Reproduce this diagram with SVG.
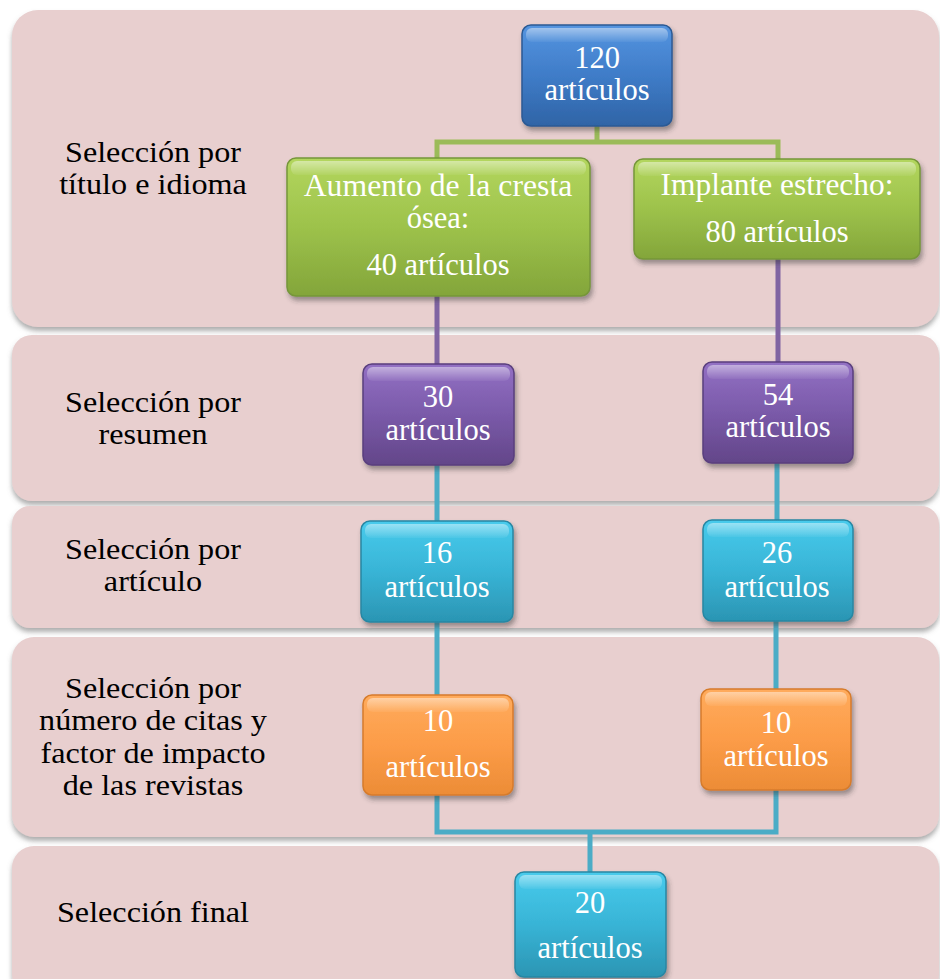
<svg xmlns="http://www.w3.org/2000/svg" width="940" height="979" viewBox="0 0 940 979">
<defs>
<filter id="bandShadow" x="-5%" y="-10%" width="110%" height="125%">
<feDropShadow dx="0" dy="4" stdDeviation="2.5" flood-color="#6d6d6d" flood-opacity="0.55"/>
</filter>
<filter id="boxShadow" x="-10%" y="-10%" width="125%" height="130%">
<feDropShadow dx="2" dy="4" stdDeviation="2.5" flood-color="#333" flood-opacity="0.45"/>
</filter>
<linearGradient id="gBlue" x1="0" y1="0" x2="0" y2="1">
<stop offset="0" stop-color="#5595e0"/><stop offset="0.5" stop-color="#3f7cc8"/><stop offset="1" stop-color="#2f64a6"/>
</linearGradient>
<linearGradient id="gGreen" x1="0" y1="0" x2="0" y2="1">
<stop offset="0" stop-color="#b3d65e"/><stop offset="0.5" stop-color="#9dc24b"/><stop offset="1" stop-color="#83a53a"/>
</linearGradient>
<linearGradient id="gPurple" x1="0" y1="0" x2="0" y2="1">
<stop offset="0" stop-color="#9370c4"/><stop offset="0.5" stop-color="#7a5aa9"/><stop offset="1" stop-color="#634689"/>
</linearGradient>
<linearGradient id="gCyan" x1="0" y1="0" x2="0" y2="1">
<stop offset="0" stop-color="#48cbec"/><stop offset="0.5" stop-color="#38b4d6"/><stop offset="1" stop-color="#2b95b3"/>
</linearGradient>
<linearGradient id="gOrange" x1="0" y1="0" x2="0" y2="1">
<stop offset="0" stop-color="#ffab5c"/><stop offset="0.5" stop-color="#fc9c48"/><stop offset="1" stop-color="#ec8c36"/>
</linearGradient>
<linearGradient id="gloss" x1="0" y1="0" x2="0" y2="1">
<stop offset="0" stop-color="#fff" stop-opacity="0.45"/><stop offset="1" stop-color="#fff" stop-opacity="0.05"/>
</linearGradient>
</defs>
<style>
.band{fill:#e8cfcf;}
.lbl{font-size:29px;fill:#000;text-anchor:middle;}
.bt{font-size:30.5px;fill:#fff;text-anchor:middle;}
.gl{fill:url(#gloss);}
.conn{fill:none;stroke-width:5;stroke-linejoin:miter;}
.cg{stroke:#9bbb59;}
.cp{stroke:#8064a2;}
.cc{stroke:#4bacc6;}
</style>
<rect width="940" height="979" fill="#ffffff"/>
<g id="bands">
<rect class="band" x="12" y="10" width="927" height="317" rx="26" filter="url(#bandShadow)"/>
<rect class="band" x="12" y="335" width="927" height="166" rx="20" filter="url(#bandShadow)"/>
<rect class="band" x="12" y="506" width="927" height="122" rx="18" filter="url(#bandShadow)"/>
<rect class="band" x="12" y="637" width="927" height="200" rx="22" filter="url(#bandShadow)"/>
<rect class="band" x="12" y="846" width="927" height="150" rx="22" filter="url(#bandShadow)"/>
</g>
<g id="labels" font-family="Liberation Serif, Times New Roman, DejaVu Serif, serif">
<text class="lbl" transform="matrix(1.11 0 0 1 153 162)">Selección por</text>
<text class="lbl" transform="matrix(1.11 0 0 1 153 194)">título e idioma</text>
<text class="lbl" transform="matrix(1.11 0 0 1 153 412)">Selección por</text>
<text class="lbl" transform="matrix(1.11 0 0 1 153 444)">resumen</text>
<text class="lbl" transform="matrix(1.11 0 0 1 153 559)">Selección por</text>
<text class="lbl" transform="matrix(1.11 0 0 1 153 591)">artículo</text>
<text class="lbl" transform="matrix(1.11 0 0 1 153 698)">Selección por</text>
<text class="lbl" transform="matrix(1.11 0 0 1 153 730)">número de citas y</text>
<text class="lbl" transform="matrix(1.11 0 0 1 153 763)">factor de impacto</text>
<text class="lbl" transform="matrix(1.11 0 0 1 153 795)">de las revistas</text>
<text class="lbl" transform="matrix(1.11 0 0 1 153 922)">Selección final</text>
</g>
<g id="connectors">
<path class="conn cg" d="M597,126 V142 M437,158 V142 H778 V159"/>
<path class="conn cp" d="M437,296 V364 M778,259 V362"/>
<path class="conn cc" d="M437,465 V521 M777,463 V520 M437,622 V695 M776,621 V689"/>
<path class="conn cc" d="M437,795 V832 H776 V790 M590,832 V872"/>
</g>
<g font-family="Liberation Serif, Times New Roman, DejaVu Serif, serif">
<g id="n120">
<rect x="522" y="25" width="150" height="101" rx="9" fill="url(#gBlue)" stroke="#2c5a94" stroke-width="1.5" filter="url(#boxShadow)"/>
<rect class="gl" x="526" y="28" width="142" height="14" rx="6"/>
<text class="bt" x="597" y="68">120</text>
<text class="bt" x="597" y="100">artículos</text>
</g>
<g id="nAumento">
<rect x="287" y="158" width="303" height="138" rx="9" fill="url(#gGreen)" stroke="#76963a" stroke-width="1.5" filter="url(#boxShadow)"/>
<rect class="gl" x="291" y="161" width="295" height="14" rx="6"/>
<text class="bt" transform="matrix(1.04 0 0 1 438 196)">Aumento de la cresta</text>
<text class="bt" x="438" y="228">ósea:</text>
<text class="bt" x="438" y="275">40 artículos</text>
</g>
<g id="nImplante">
<rect x="634" y="159" width="286" height="100" rx="9" fill="url(#gGreen)" stroke="#76963a" stroke-width="1.5" filter="url(#boxShadow)"/>
<rect class="gl" x="638" y="162" width="278" height="14" rx="6"/>
<text class="bt" transform="matrix(1.03 0 0 1 777 195)">Implante estrecho:</text>
<text class="bt" x="777" y="242">80 artículos</text>
</g>
<g id="n30">
<rect x="363" y="364" width="151" height="101" rx="9" fill="url(#gPurple)" stroke="#5a3f7e" stroke-width="1.5" filter="url(#boxShadow)"/>
<rect class="gl" x="367" y="367" width="143" height="14" rx="6"/>
<text class="bt" x="438" y="407">30</text>
<text class="bt" x="438" y="440">artículos</text>
</g>
<g id="n54">
<rect x="703" y="362" width="150" height="101" rx="9" fill="url(#gPurple)" stroke="#5a3f7e" stroke-width="1.5" filter="url(#boxShadow)"/>
<rect class="gl" x="707" y="365" width="142" height="14" rx="6"/>
<text class="bt" x="778" y="405">54</text>
<text class="bt" x="778" y="437">artículos</text>
</g>
<g id="n16">
<rect x="361" y="521" width="152" height="101" rx="9" fill="url(#gCyan)" stroke="#2887a3" stroke-width="1.5" filter="url(#boxShadow)"/>
<rect class="gl" x="365" y="524" width="144" height="14" rx="6"/>
<text class="bt" x="437" y="563">16</text>
<text class="bt" x="437" y="597">artículos</text>
</g>
<g id="n26">
<rect x="703" y="520" width="150" height="101" rx="9" fill="url(#gCyan)" stroke="#2887a3" stroke-width="1.5" filter="url(#boxShadow)"/>
<rect class="gl" x="707" y="523" width="142" height="14" rx="6"/>
<text class="bt" x="777" y="563">26</text>
<text class="bt" x="777" y="597">artículos</text>
</g>
<g id="n10a">
<rect x="363" y="695" width="150" height="100" rx="9" fill="url(#gOrange)" stroke="#d67b2c" stroke-width="1.5" filter="url(#boxShadow)"/>
<rect class="gl" x="367" y="698" width="142" height="14" rx="6"/>
<text class="bt" x="438" y="731">10</text>
<text class="bt" x="438" y="777">artículos</text>
</g>
<g id="n10b">
<rect x="701" y="689" width="150" height="101" rx="9" fill="url(#gOrange)" stroke="#d67b2c" stroke-width="1.5" filter="url(#boxShadow)"/>
<rect class="gl" x="705" y="692" width="142" height="14" rx="6"/>
<text class="bt" x="776" y="733">10</text>
<text class="bt" x="776" y="766">artículos</text>
</g>
<g id="n20">
<rect x="515" y="872" width="151" height="105" rx="9" fill="url(#gCyan)" stroke="#2887a3" stroke-width="1.5" filter="url(#boxShadow)"/>
<rect class="gl" x="519" y="875" width="143" height="14" rx="6"/>
<text class="bt" x="590" y="913">20</text>
<text class="bt" x="590" y="958">artículos</text>
</g>
</g>
</svg>
